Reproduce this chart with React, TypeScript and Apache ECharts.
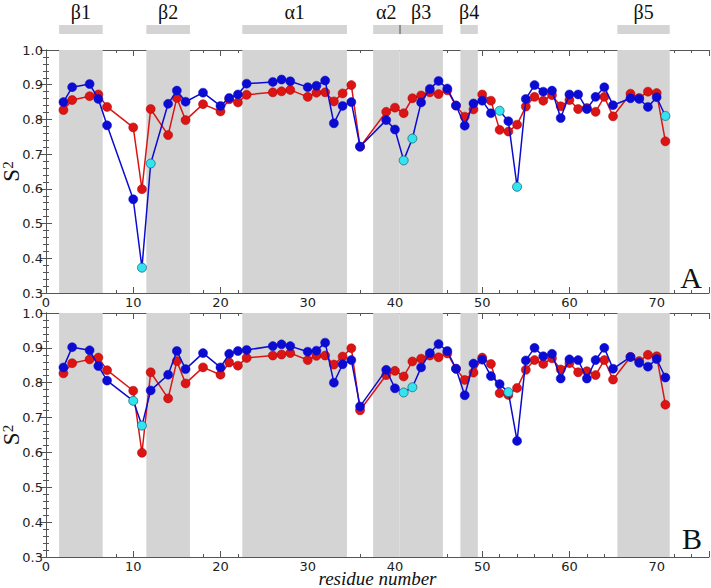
import React, { useEffect, useRef } from "react";
import * as echarts from "echarts";

const residues = [2, 3, 5, 6, 7, 10, 11, 12, 14, 15, 16, 18, 20, 21, 22, 23, 26, 27, 28, 30, 31, 32, 33, 34, 35, 36,
  39, 40, 41, 42, 43, 44, 45, 46, 47, 48, 49, 50, 51, 52, 53, 54, 55, 56, 57, 58, 59, 60, 61, 62, 63, 64, 65,
  67, 68, 69, 70, 71];

const redS2 = [0.827, 0.856, 0.867, 0.872, 0.836, 0.777, 0.599, 0.830, 0.755, 0.862, 0.798, 0.844, 0.823, 0.858, 0.849, 0.871,
  0.878, 0.881, 0.885, 0.865, 0.877, 0.878, 0.852, 0.875, 0.899, 0.721,
  0.822, 0.834, 0.818, 0.861, 0.869, 0.878, 0.873, 0.884, 0.840, 0.808, 0.829, 0.872, 0.854, 0.770, 0.765, 0.785, 0.837,
  0.865, 0.854, 0.870, 0.838, 0.856, 0.830, 0.833, 0.822, 0.865, 0.809,
  0.874, 0.862, 0.880, 0.876, 0.737];

const blueA = [0.850, 0.893, 0.902, 0.859, 0.783, 0.570, 0.373, 0.673, 0.845, 0.883, 0.851, 0.877, 0.839, 0.862, 0.872, 0.903,
  0.908, 0.915, 0.910, 0.893, 0.897, 0.912, 0.789, 0.839, 0.850, 0.722,
  0.798, 0.771, 0.682, 0.745, 0.849, 0.888, 0.911, 0.889, 0.840, 0.782, 0.846, 0.854, 0.818, 0.825, 0.795, 0.606, 0.859,
  0.899, 0.880, 0.883, 0.804, 0.872, 0.872, 0.830, 0.865, 0.893, 0.841,
  0.861, 0.859, 0.836, 0.864, 0.810];

const blueB = [0.844, 0.902, 0.893, 0.848, 0.806, 0.748, 0.677, 0.778, 0.823, 0.891, 0.839, 0.885, 0.844, 0.883, 0.891, 0.894,
  0.905, 0.910, 0.905, 0.889, 0.892, 0.915, 0.800, 0.853, 0.865, 0.732,
  0.837, 0.784, 0.772, 0.787, 0.844, 0.885, 0.911, 0.891, 0.840, 0.764, 0.855, 0.866, 0.819, 0.796, 0.773, 0.633, 0.864,
  0.900, 0.876, 0.883, 0.812, 0.867, 0.865, 0.812, 0.865, 0.900, 0.840,
  0.874, 0.857, 0.846, 0.868, 0.815];

const cyanA = [11, 12, 41, 42, 52, 54, 71];
const cyanB = [10, 11, 41, 42, 53];

const ssNames = ["β1", "β2", "α1", "α2", "β3", "β4", "β5"];
const ssStart = [1.5, 11.5, 22.5, 37.5, 40.5, 47.5, 65.5];
const ssEnd = [6.5, 16.5, 34.5, 40.5, 45.5, 49.5, 71.5];
const ssDivider = [40.5];

const xTicks = { min: 0, max: 76, interval: 10 };
const yTicks = { min: 0.3, max: 1.0, interval: 0.1 };

const BLUE = "#0b0bd2";
const RED = "#dc1414";
const CYAN = "#33e3ef";
const SHADE = "#d4d4d4";
const AXIS = "#555555";

export default function App() {
  const ref = useRef<HTMLDivElement>(null);
  useEffect(() => {
    if (!ref.current) return;
    const chart = echarts.init(ref.current, undefined, { renderer: "svg" });

    const gridBase = { left: 46, right: 2, containLabel: false, outerBoundsMode: "none" };
    const grids = [
      { ...gridBase, top: 50, height: 243 },
      { ...gridBase, top: 313, height: 244 },
      { ...gridBase, top: 25, height: 9 },
    ];

    const xAxes: any[] = [];
    const yAxes: any[] = [];
    for (let g = 0; g < 2; g++) {
      for (const pos of ["bottom", "top"]) {
        xAxes.push({
          type: "value",
          gridIndex: g,
          position: pos,
          min: xTicks.min,
          max: xTicks.max,
          interval: xTicks.interval,
          axisLine: { show: true, lineStyle: { color: AXIS, width: 1 } },
          axisTick: { show: true, inside: true, length: 6, lineStyle: { color: AXIS } },
          minorTick: { show: true, splitNumber: 5, length: 3, lineStyle: { color: AXIS } },
          splitLine: { show: false },
          axisLabel: {
            show: pos === "bottom",
            showMaxLabel: false,
            margin: 3,
            fontSize: 13,
            color: "#222",
            fontFamily: "DejaVu Sans",
          },
          ...(g === 1 && pos === "bottom"
            ? {
                name: "residue number",
                nameLocation: "middle",
                nameGap: 21,
                nameMoveOverlap: false,
                nameTextStyle: {
                  fontFamily: "Liberation Serif",
                  fontStyle: "italic",
                  fontSize: 19,
                  lineHeight: 19,
                  color: "#111",
                  verticalAlign: "middle",
                },
              }
            : {}),
        });
      }
      for (const pos of ["left", "right"]) {
        yAxes.push({
          type: "value",
          gridIndex: g,
          position: pos,
          min: yTicks.min,
          max: yTicks.max,
          interval: yTicks.interval,
          axisLine: { show: true, lineStyle: { color: AXIS, width: 1 } },
          axisTick: { show: true, inside: true, length: 6, lineStyle: { color: AXIS } },
          minorTick: { show: true, splitNumber: 5, length: 3, lineStyle: { color: AXIS } },
          splitLine: { show: false },
          axisLabel: {
            show: pos === "left",
            margin: 3,
            fontSize: 13,
            color: "#222",
            fontFamily: "DejaVu Sans",
            formatter: (v: number) => v.toFixed(1),
          },
          ...(pos === "left"
            ? {
                name: "{s|S}{p|2}",
                nameLocation: "middle",
                nameRotate: 90,
                nameGap: 23,
                nameMoveOverlap: false,
                nameTextStyle: {
                  fontFamily: "Liberation Serif",
                  fontSize: 22,
                  color: "#111",
                  rich: {
                    s: { fontFamily: "Liberation Serif", fontSize: 23, color: "#111", verticalAlign: "bottom" },
                    p: { fontFamily: "Liberation Serif", fontSize: 15, color: "#111", verticalAlign: "top", padding: [0, 0, 8, 0] },
                  },
                },
              }
            : {}),
        });
      }
    }
    // header axes
    xAxes.push({ type: "value", gridIndex: 2, min: xTicks.min, max: xTicks.max, show: false });
    yAxes.push({ type: "value", gridIndex: 2, min: 0, max: 1, show: false });

    const shadeData = ssStart.map((s, i) => [{ xAxis: s }, { xAxis: ssEnd[i] }]);

    const mkData = (vals: number[], cyan: number[], base: string) =>
      residues.map((r, i) => {
        const isC = cyan.includes(r);
        return {
          value: [r, vals[i]],
          itemStyle: isC
            ? { color: CYAN, borderColor: "#1a6a80", borderWidth: 0.8 }
            : { color: base, borderColor: base, borderWidth: 0.5 },
        };
      });

    const series: any[] = [];
    for (let g = 0; g < 2; g++) {
      series.push({
        type: "line",
        name: "red" + g,
        xAxisIndex: g * 2,
        yAxisIndex: g * 2,
        data: residues.map((r, i) => [r, redS2[i]]),
        symbol: "circle",
        symbolSize: 9,
        lineStyle: { color: RED, width: 1.5 },
        itemStyle: { color: RED, borderColor: "#a80000", borderWidth: 0.5 },
        z: 3,
        markArea: {
          silent: true,
          itemStyle: { color: SHADE },
          data: shadeData,
          z: 1,
        },
      });
      series.push({
        type: "line",
        name: "blue" + g,
        xAxisIndex: g * 2,
        yAxisIndex: g * 2,
        data: mkData(g === 0 ? blueA : blueB, g === 0 ? cyanA : cyanB, BLUE),
        symbol: "circle",
        symbolSize: 9,
        lineStyle: { color: BLUE, width: 1.5 },
        itemStyle: { color: BLUE },
        z: 4,
      });
    }
    series.push({
      type: "line",
      xAxisIndex: 4,
      yAxisIndex: 4,
      data: [],
      markArea: {
        silent: true,
        itemStyle: { color: SHADE },
        label: {
          show: true,
          position: "top",
          distance: 3,
          fontFamily: "Liberation Serif",
          fontSize: 20,
          color: "#111",
        },
        data: ssStart.map((s, i) => [{ xAxis: s, name: ssNames[i] }, { xAxis: ssEnd[i] }]),
      },
      markLine: {
        silent: true,
        symbol: "none",
        label: { show: false },
        lineStyle: { color: "#777", type: "solid", width: 1.5 },
        data: ssDivider.map((d) => ({ xAxis: d })),
      },
    });

    chart.setOption({
      animation: false,
      backgroundColor: "#ffffff",
      grid: grids,
      xAxis: xAxes,
      yAxis: yAxes,
      series,
      graphic: [
        {
          type: "text",
          right: 9,
          top: 262,
          style: { text: "A", fontFamily: "Liberation Serif", fontSize: 30, fill: "#111" },
          z: 10,
        },
        {
          type: "text",
          right: 9,
          top: 523,
          style: { text: "B", fontFamily: "Liberation Serif", fontSize: 30, fill: "#111" },
          z: 10,
        },
      ],
    });
    return () => chart.dispose();
  }, []);
  return (
    <div
      ref={ref}
      style={{ position: "fixed", left: 0, top: 0, width: 711, height: 588, background: "#fff" }}
    />
  );
}
